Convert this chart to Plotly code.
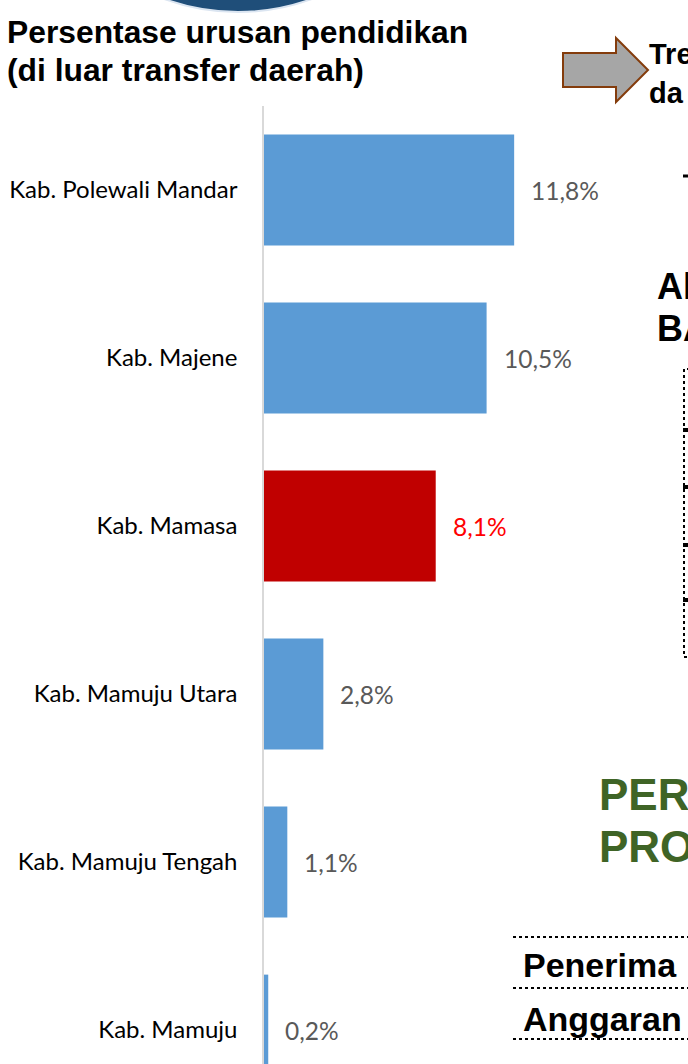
import plotly.graph_objects as go

# ---- data ----
categories = ["Kab. Polewali Mandar", "Kab. Majene", "Kab. Mamasa",
              "Kab. Mamuju Utara", "Kab. Mamuju Tengah", "Kab. Mamuju"]
values = [11.8, 10.5, 8.1, 2.8, 1.1, 0.2]
highlight = "Kab. Mamasa"
title_lines = ["Persentase urusan pendidikan", "(di luar transfer daerah)"]

W, H = 688, 1064
ML, MT = 264, 106
PW, PH = W - ML, H - MT


def fx(px):
    return (px - ML) / PW


def fy(py):
    return (H - py) / PH


bar_colors = ["#c00000" if c == highlight else "#5b9bd5" for c in categories]
label_colors = ["#ff0000" if c == highlight else "#595959" for c in categories]

fig = go.Figure(go.Bar(
    y=categories, x=values, orientation="h",
    marker=dict(color=bar_colors, line=dict(width=0)),
    width=0.66, hoverinfo="skip",
))

annotations = []
for c, v, col in zip(categories, values, label_colors):
    annotations.append(dict(
        x=v, y=c, xref="x", yref="y", xanchor="left", yanchor="middle",
        xshift=15, showarrow=False,
        text=f"{v:.1f}".replace(".", ",") + "%",
        font=dict(family="Lato", size=24.5, color=col),
    ))


def txt(text, px, py, size, color="black", bold=True, family="Liberation Sans"):
    annotations.append(dict(
        x=fx(px), y=fy(py), xref="paper", yref="paper",
        xanchor="left", yanchor="middle", showarrow=False,
        text=f"<b>{text}</b>" if bold else text,
        font=dict(family=family, size=size, color=color),
    ))


txt(title_lines[0], 5, 32, 31.8)
txt(title_lines[1], 5, 70, 31.8)
txt("Tre", 647, 54, 29)
txt("da", 647, 93, 29)
txt("Al", 655, 286, 36)
txt("BA", 655, 328, 36)
txt("PER", 597, 794, 44, color="#3f6426")
txt("PRO", 597, 846, 44, color="#3f6426")
txt("Penerima", 521, 965, 34)
txt("Anggaran", 521, 1019, 34)

shapes = []
# top dark blue circle fragment
shapes.append(dict(type="circle", xref="paper", yref="paper",
                   x0=fx(22), x1=fx(454), y0=fy(12), y1=fy(-420),
                   fillcolor="#1f4e79", line=dict(color="#dbe5f1", width=2),
                   layer="above"))
# arrow
pts = [(563, 53), (616, 53), (616, 38), (648, 70), (616, 102), (616, 87), (563, 87)]
path = "M " + " L ".join(f"{fx(a):.5f},{fy(b):.5f}" for a, b in pts) + " Z"
shapes.append(dict(type="path", xref="paper", yref="paper", path=path,
                   fillcolor="#a6a6a6", line=dict(color="#843c0c", width=2)))
# small dash
shapes.append(dict(type="line", xref="paper", yref="paper",
                   x0=fx(683), x1=fx(689), y0=fy(176), y1=fy(176),
                   line=dict(color="black", width=3)))
# dotted box
shapes.append(dict(type="rect", xref="paper", yref="paper",
                   x0=fx(684), x1=fx(720), y0=fy(657), y1=fy(369),
                   line=dict(color="black", width=2, dash="dot")))
for yy in [430, 487, 545, 600]:
    shapes.append(dict(type="rect", xref="paper", yref="paper",
                       x0=fx(683), x1=fx(689), y0=fy(yy + 2), y1=fy(yy - 2),
                       fillcolor="black", line=dict(width=0)))
# table dotted lines
for yy in [937, 988, 1039]:
    shapes.append(dict(type="line", xref="paper", yref="paper",
                       x0=fx(513), x1=fx(692), y0=fy(yy), y1=fy(yy),
                       line=dict(color="black", width=2, dash="dot")))

fig.update_layout(
    width=W, height=H,
    margin=dict(l=ML, r=0, t=MT, b=0, pad=0),
    paper_bgcolor="white", plot_bgcolor="white",
    showlegend=False,
    annotations=annotations, shapes=shapes,
    xaxis=dict(range=[0, 20], visible=False, fixedrange=True),
    yaxis=dict(
        type="category", categoryorder="array", categoryarray=categories,
        range=[5.202, -0.5], showgrid=False, zeroline=False,
        showline=True, linecolor="#d9d9d9", linewidth=1.5,
        ticks="", ticklabelstandoff=20,
        tickfont=dict(family="Lato", size=24, color="black"),
        fixedrange=True,
    ),
)

fig.write_html("out.html")
